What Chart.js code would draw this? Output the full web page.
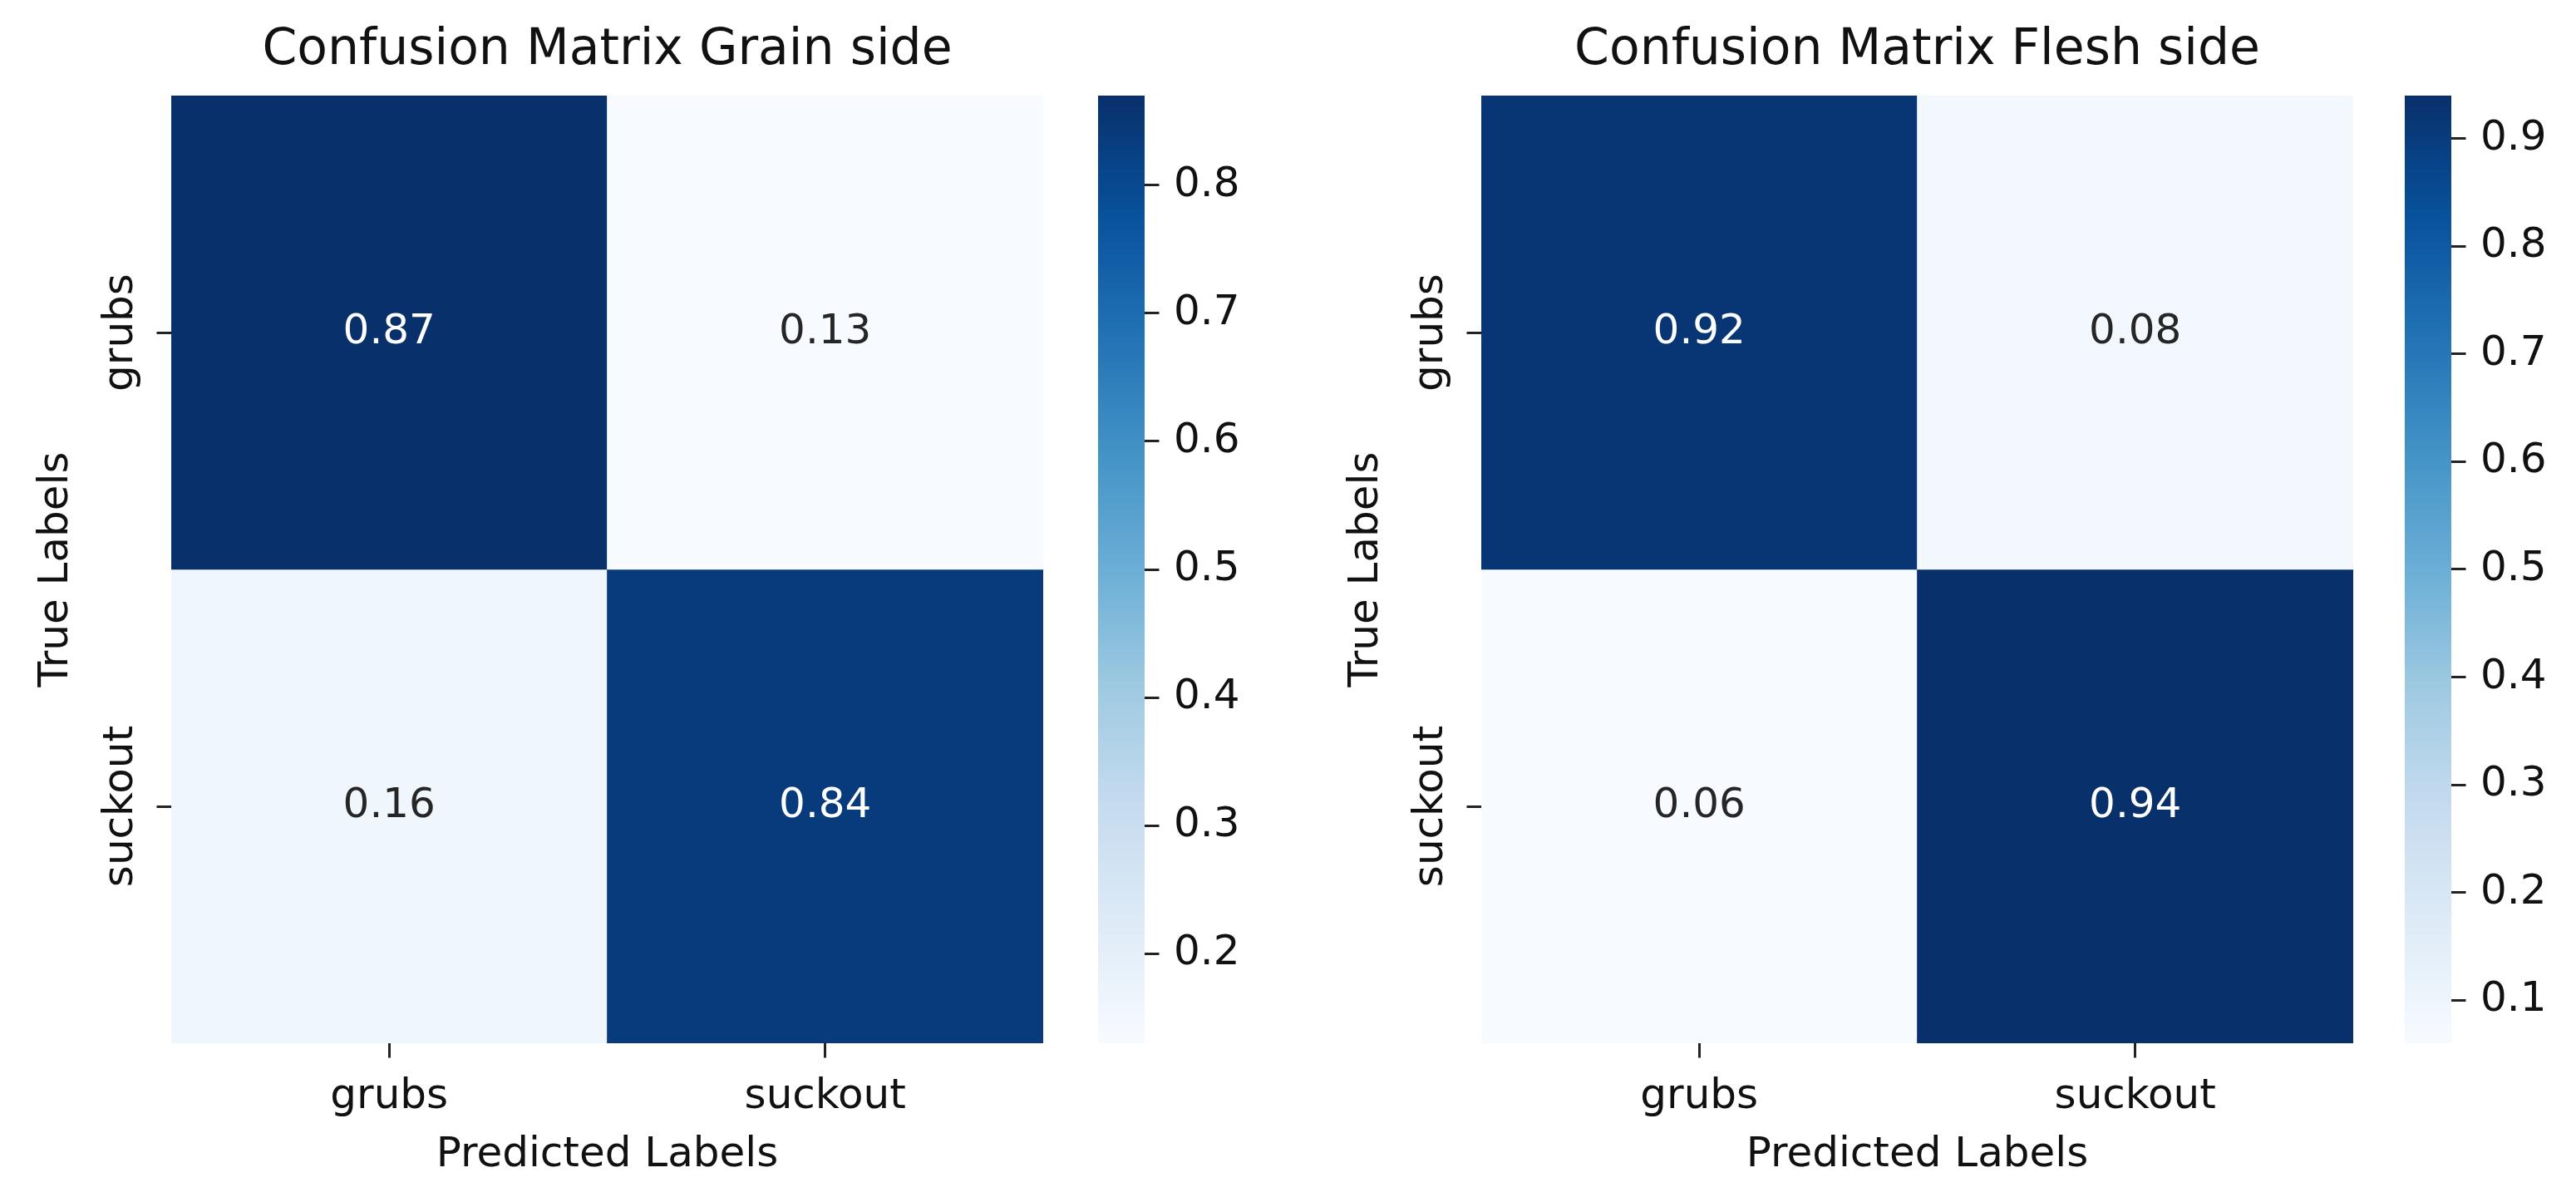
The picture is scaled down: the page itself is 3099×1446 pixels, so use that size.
<!DOCTYPE html>
<html>
<head>
<meta charset="utf-8">
<script src="https://cdn.jsdelivr.net/npm/chart.js@4.4.1/dist/chart.umd.min.js"></script>
<style>
  html, body { margin: 0; padding: 0; background: #fff; }
  body { width: 3099px; height: 1446px; overflow: hidden; position: relative; }
  canvas { position: absolute; top: 0; }
</style>
</head>
<body>
<canvas id="grainMap" width="1290" height="1446" style="left:0px"></canvas>
<canvas id="grainBar" width="200" height="1446" style="left:1299px"></canvas>
<canvas id="fleshMap" width="1290" height="1446" style="left:1576px"></canvas>
<canvas id="fleshBar" width="200" height="1446" style="left:2871px"></canvas>
<script>
const predLabels = ['grubs', 'suckout'];
const trueLabels = ['grubs', 'suckout'];
const grainValues = [[0.87, 0.13], [0.16, 0.84]];
const fleshValues = [[0.92, 0.08], [0.06, 0.94]];
const grainTicks = [0.2, 0.3, 0.4, 0.5, 0.6, 0.7, 0.8];
const fleshTicks = [0.1, 0.2, 0.3, 0.4, 0.5, 0.6, 0.7, 0.8, 0.9];
// matplotlib "Blues"
const blues = ['#f7fbff', '#deebf7', '#c6dbef', '#9ecae1', '#6baed6', '#4292c6', '#2171b5', '#08519c', '#08306b'];

const FONT = "'DejaVu Sans', sans-serif";
const INK = '#111';
Chart.defaults.font.family = FONT;

function hex(c) { return [1, 3, 5].map(i => parseInt(c.substr(i, 2), 16)); }
function cmap(t) {
  t = Math.max(0, Math.min(1, t));
  const pos = t * (blues.length - 1);
  const i = Math.min(Math.floor(pos), blues.length - 2);
  const f = pos - i;
  const a = hex(blues[i]), b = hex(blues[i + 1]);
  const c = a.map((v, k) => Math.round(v + (b[k] - v) * f));
  return `rgb(${c[0]},${c[1]},${c[2]})`;
}
function range(values) {
  const flat = values.flat();
  return [Math.min(...flat), Math.max(...flat)];
}

const annotate = {
  id: 'annotate',
  afterDatasetsDraw(chart) {
    const { ctx } = chart;
    const values = chart.options.plugins.annotate.values;
    const [lo, hi] = range(values);
    ctx.save();
    ctx.font = `50px ${FONT}`;
    ctx.textAlign = 'center';
    ctx.textBaseline = 'middle';
    chart.data.datasets.forEach((ds, r) => {
      chart.getDatasetMeta(r).data.forEach((el, c) => {
        const v = values[r][c];
        const t = (v - lo) / (hi - lo);
        ctx.fillStyle = t > 0.5 ? '#ffffff' : '#262626';
        const p = el.getCenterPoint();
        ctx.fillText(v.toFixed(2), p.x, p.y);
      });
    });
    ctx.restore();
  }
};

function makeHeatmap(id, title, values) {
  const [lo, hi] = range(values);
  return new Chart(document.getElementById(id), {
    type: 'bar',
    data: {
      labels: predLabels,
      datasets: trueLabels.map((name, r) => ({
        label: name,
        data: values[r].map(() => [r, r + 1]),
        backgroundColor: values[r].map(v => cmap((v - lo) / (hi - lo))),
        borderWidth: 0,
        barPercentage: 1,
        categoryPercentage: 1,
        grouped: false,
      })),
    },
    options: {
      responsive: false, animation: false, devicePixelRatio: 1,
      layout: { padding: { left: 0, right: 35, top: 0, bottom: 0 } },
      scales: {
        x: {
          type: 'category',
          offset: true,
          border: { display: false },
          grid: { offset: false, drawOnChartArea: false, drawTicks: true, tickLength: 17.5, tickWidth: 3, tickColor: '#222' },
          ticks: { color: INK, font: { size: 50 }, padding: 17.5, minRotation: 0, maxRotation: 0 },
          title: { display: true, text: 'Predicted Labels', color: INK, font: { size: 50 }, padding: { top: 0, bottom: 26 } },
          afterFit: s => { s.height = 191; },
        },
        y: {
          type: 'linear', min: 0, max: trueLabels.length, reverse: true,
          border: { display: false },
          grid: { drawOnChartArea: false, drawTicks: true, tickLength: 17.5, tickWidth: 3, tickColor: '#222' },
          afterBuildTicks: s => { s.ticks = trueLabels.map((_, i) => ({ value: i + 0.5 })); },
          ticks: {
            color: INK, font: { size: 50 }, padding: -54.5, minRotation: 90, maxRotation: 90, crossAlign: 'center',
            callback: v => trueLabels[Math.floor(v)],
          },
          title: { display: true, text: 'True Labels', color: INK, font: { size: 50 }, padding: { top: 38, bottom: 0 } },
          afterFit: s => { s.width = 206; },
        },
      },
      plugins: {
        legend: { display: false },
        tooltip: { enabled: false },
        title: { display: true, text: title, fullSize: false, color: INK, font: { size: 60, weight: 'normal' }, padding: { top: 25, bottom: 18 } },
        annotate: { values },
      },
    },
    plugins: [annotate],
  });
}

function makeColorbar(id, values, ticks) {
  const [lo, hi] = range(values);
  return new Chart(document.getElementById(id), {
    type: 'bar',
    data: {
      labels: [''],
      datasets: [{
        data: [[lo, hi]],
        borderWidth: 0, barPercentage: 1, categoryPercentage: 1,
        backgroundColor: ctx => {
          const area = ctx.chart.chartArea;
          if (!area) return blues[4];
          const g = ctx.chart.ctx.createLinearGradient(0, area.bottom, 0, area.top);
          blues.forEach((c, i) => g.addColorStop(i / (blues.length - 1), c));
          return g;
        },
      }],
    },
    options: {
      responsive: false, animation: false, devicePixelRatio: 1,
      layout: { padding: { left: 22, right: 0, top: 115, bottom: 191 } },
      scales: {
        x: { display: false },
        y: {
          type: 'linear', position: 'right', min: lo, max: hi,
          border: { display: false },
          grid: { drawOnChartArea: false, drawTicks: true, tickLength: 17.5, tickWidth: 3, tickColor: '#222' },
          afterBuildTicks: s => { s.ticks = ticks.map(v => ({ value: v })); },
          ticks: { color: INK, font: { size: 50 }, padding: 17.5, callback: v => v.toFixed(1) },
          afterFit: s => { s.width = 122; },
        },
      },
      plugins: { legend: { display: false }, tooltip: { enabled: false } },
    },
  });
}

makeHeatmap('grainMap', 'Confusion Matrix Grain side', grainValues);
makeColorbar('grainBar', grainValues, grainTicks);
makeHeatmap('fleshMap', 'Confusion Matrix Flesh side', fleshValues);
makeColorbar('fleshBar', fleshValues, fleshTicks);
</script>
</body>
</html>
